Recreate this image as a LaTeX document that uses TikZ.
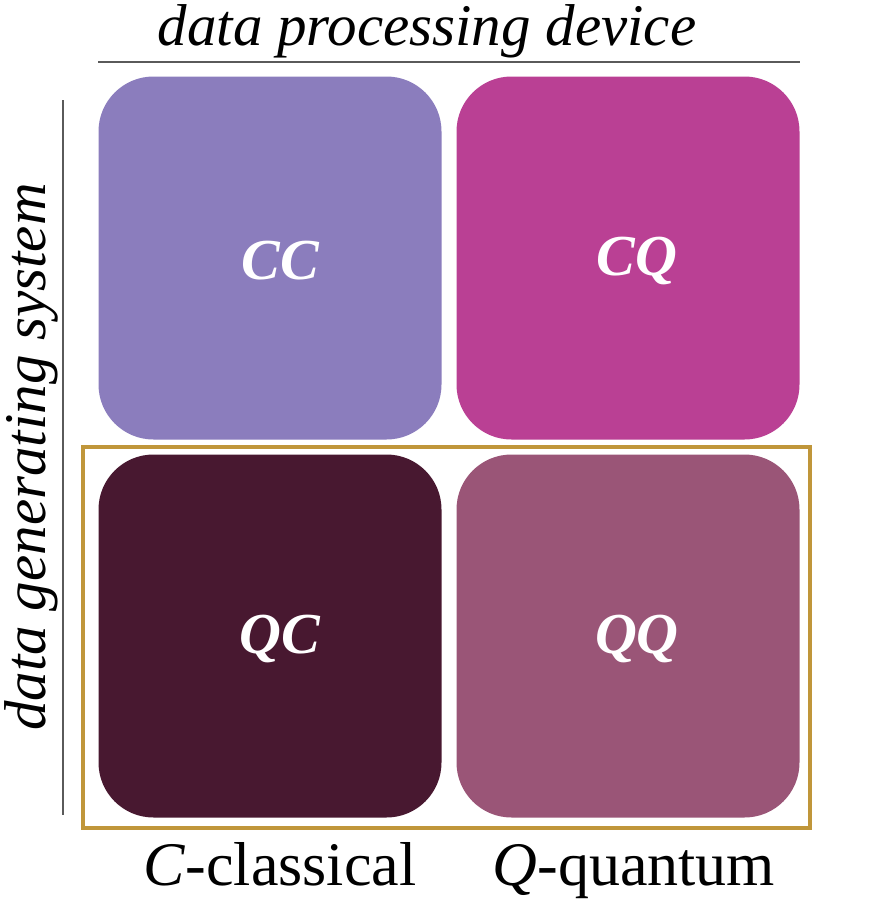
\documentclass[tikz,border=0pt]{standalone}
\usepackage{fontspec}
\setmainfont{Liberation Serif}
\usepackage{xcolor}
\usetikzlibrary{positioning}
\definecolor{ccviolet}{HTML}{8B7DBD}
\definecolor{cqmagenta}{HTML}{BA4094}
\definecolor{qcplum}{HTML}{481830}
\definecolor{qqmauve}{HTML}{9A5577}
\definecolor{framegold}{HTML}{C0963A}
\definecolor{axisgray}{HTML}{5A5A5A}
\tikzset{
  cell/.style={rectangle, rounded corners=55pt, inner sep=0pt,
    minimum width=343pt, minimum height=363pt},
  celltext/.style={text=white, font=\fontsize{58}{60}\selectfont\bfseries\itshape},
  axisline/.style={axisgray, line width=2.5pt},
  axislabel/.style={inner sep=0pt, font=\fontsize{59}{61}\selectfont\itshape},
  typelabel/.style={font=\fontsize{62}{64}\selectfont}
}

\begin{document}
\begin{tikzpicture}[x=1pt,y=-1pt]
\useasboundingbox (0,0) rectangle (880,902);
\node [cell,fill=ccviolet] (cc) at (270,258) {};
\node [cell,fill=cqmagenta] (cq) at (628,258) {};
\node [cell,fill=qcplum] (qc) at (270,636) {};
\node [cell,fill=qqmauve] (qq) at (628,636) {};
\node [celltext] (cclabel) at ([shift={(10,3)}]cc.center) {CC};
\node [celltext] (cqlabel) at ([shift={(9,3)}]cq.center) {CQ};
\node [celltext] (qclabel) at ([shift={(10,3)}]qc.center) {QC};
\node [celltext] (qqlabel) at ([shift={(9,3)}]qq.center) {QQ};
\draw [framegold,line width=4pt] (83,447) rectangle (810,828);
\draw [axisline] (98,62) -- (800,62);
\draw [axisline] (63,100) -- (63,815);
 \node [axislabel,anchor=base] (dev) at (427,45) {data processing device};
 \node [axislabel,anchor=base,rotate=90] (sys) at (45,457) {data generating system};
 \node [typelabel,anchor=base] (cl) at (280,885) {\textit{C}-classical};
 \node [typelabel,anchor=base] (qu) at (634,885) {\textit{Q}-quantum};
\end{tikzpicture}
\end{document}
